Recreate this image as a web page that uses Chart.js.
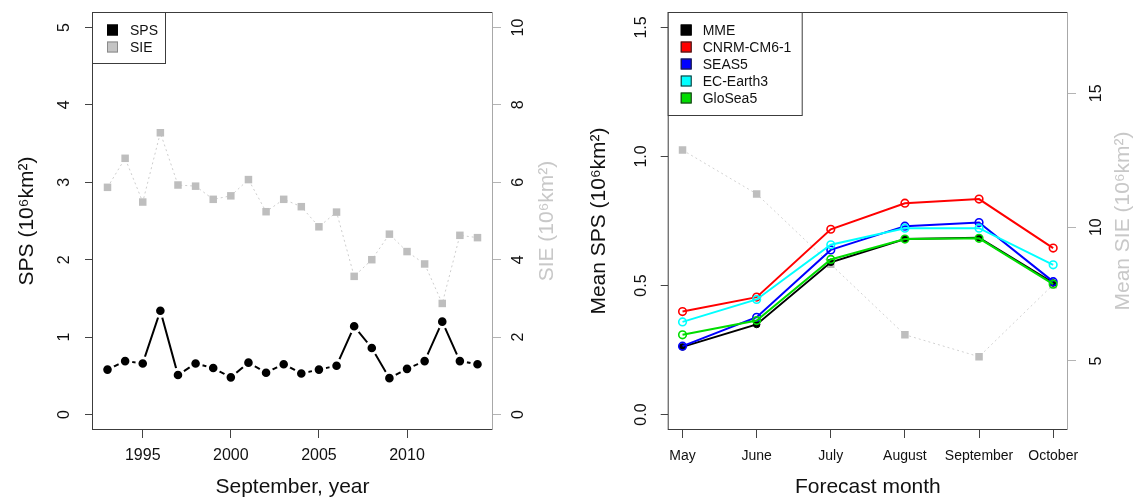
<!DOCTYPE html>
<html>
<head>
<meta charset="utf-8">
<script src="https://cdn.jsdelivr.net/npm/chart.js@4.4.1/dist/chart.umd.min.js"></script>
<style>
  html, body { margin: 0; padding: 0; background: #fff; }
  #wrap { display: flex; width: 1135px; height: 500px; }
  canvas { display: block; }
</style>
</head>
<body>
<div id="wrap">
  <canvas id="left" width="567" height="500"></canvas>
  <canvas id="right" width="568" height="500"></canvas>
</div>
<script>
// --- DATA: left panel (September, per year) ---
const years = [1993, 1994, 1995, 1996, 1997, 1998, 1999, 2000, 2001, 2002, 2003,
               2004, 2005, 2006, 2007, 2008, 2009, 2010, 2011, 2012, 2013, 2014];
const spsYear = [0.58, 0.69, 0.66, 1.34, 0.51, 0.66, 0.60, 0.48, 0.67, 0.54, 0.65,
                 0.53, 0.58, 0.63, 1.14, 0.86, 0.47, 0.59, 0.69, 1.20, 0.69, 0.65];
const sieYear = [5.87, 6.62, 5.49, 7.28, 5.93, 5.90, 5.56, 5.65, 6.07, 5.24, 5.56,
                 5.37, 4.85, 5.23, 3.57, 4.00, 4.66, 4.21, 3.89, 2.87, 4.63, 4.57];
const yearTicks = [1995, 2000, 2005, 2010];
const spsTicks = [0, 1, 2, 3, 4, 5];
const sieTicks = [0, 2, 4, 6, 8, 10];

// --- DATA: right panel (forecast month) ---
const months = ['May', 'June', 'July', 'August', 'September', 'October'];
const monthPos = [1, 2, 3, 4, 5, 6];
const mme     = [0.262, 0.349, 0.590, 0.680, 0.685, 0.510];
const cnrm    = [0.399, 0.455, 0.718, 0.819, 0.835, 0.645];
const seas5   = [0.265, 0.377, 0.638, 0.730, 0.744, 0.515];
const ecearth = [0.359, 0.446, 0.658, 0.722, 0.722, 0.580];
const glosea  = [0.309, 0.364, 0.601, 0.680, 0.683, 0.505];
const sieMonth = [12.88, 11.24, 8.61, 5.98, 5.16, 7.85];
const meanSpsTicks = [0, 0.5, 1, 1.5];
const meanSieTicks = [5, 10, 15];

Chart.defaults.font.family = "'Liberation Sans', Arial, sans-serif";
Chart.defaults.color = '#111';

const pts = (xs, ys) => xs.map((x, i) => ({ x, y: ys[i] }));
const fixTicks = list => scale => { scale.ticks = list.map(v => ({ value: v })); };

// frame, in-plot legend and right-hand axis title
const decor = {
  id: 'decor',
  afterDatasetsDraw(chart, args, opts) {
    const { ctx, chartArea: a } = chart;
    ctx.save();
    ctx.lineWidth = 1;
    ctx.strokeStyle = '#3c3c3c';
    ctx.strokeRect(a.left + 0.5, a.top + 0.5, a.width - 1, a.height - 1);
    ctx.strokeStyle = '#a8a8a8';
    ctx.beginPath();
    ctx.moveTo(a.right - 0.5, a.top);
    ctx.lineTo(a.right - 0.5, a.bottom);
    ctx.stroke();

    // legend
    const L = opts.legend;
    const items = chart.data.datasets.filter(d => d.legendFill);
    const bx = a.left, by = a.top;
    ctx.fillStyle = '#fff';
    ctx.fillRect(bx + 0.5, by + 0.5, L.w, L.h);
    ctx.strokeStyle = '#3c3c3c';
    ctx.strokeRect(bx + 0.5, by + 0.5, L.w, L.h);
    ctx.font = '14px "Liberation Sans", Arial, sans-serif';
    ctx.textBaseline = 'middle';
    ctx.textAlign = 'left';
    items.forEach((d, i) => {
      const cy = by + L.row0 + i * L.rowH;
      ctx.fillStyle = d.legendFill;
      ctx.fillRect(bx + L.sqX, cy - L.sq / 2, L.sq, L.sq);
      ctx.strokeStyle = d.legendStroke;
      ctx.strokeRect(bx + L.sqX + 0.5, cy - L.sq / 2 + 0.5, L.sq - 1, L.sq - 1);
      ctx.fillStyle = '#111';
      ctx.fillText(d.label, bx + L.textX, cy + 1);
    });

    // right axis title, reading upwards
    const T = opts.rightTitle;
    ctx.translate(T.x, (a.top + a.bottom) / 2);
    ctx.rotate(-Math.PI / 2);
    ctx.fillStyle = T.color;
    ctx.font = '21px "Liberation Sans", Arial, sans-serif';
    ctx.textAlign = 'center';
    ctx.fillText(T.text, 0, 0);
    ctx.restore();
  }
};

// fixed axis sizes, no extra label padding pushed onto the plot area
const sizeY = width => s => { s.width = width; s.paddingTop = 0; s.paddingBottom = 0; };
const sizeX = height => s => { s.height = height; s.paddingLeft = 0; s.paddingRight = 0; };

function yAxis(pos, min, max, ticks, fmt, pad, width, tickColor, tickLen, title) {
  return {
    type: 'linear', position: pos, min, max,
    afterBuildTicks: fixTicks(ticks),
    afterFit: sizeY(width),
    ticks: { minRotation: 90, maxRotation: 90, crossAlign: 'center', padding: pad,
             color: '#111', font: { size: 16 }, callback: fmt },
    grid: { drawOnChartArea: false, drawTicks: true, tickLength: tickLen, color: tickColor },
    border: { display: false },
    title: title || { display: false }
  };
}

// --- LEFT CHART ---
new Chart(document.getElementById('left'), {
  type: 'line',
  data: {
    datasets: [
      { label: 'SPS', data: pts(years, spsYear), yAxisID: 'y',
        borderColor: '#000', borderWidth: 2,
        pointRadius: 5.8, pointHoverRadius: 5.8,
        pointBackgroundColor: '#000', pointBorderColor: '#fff', pointBorderWidth: 3,
        legendFill: '#000', legendStroke: '#000' },
      { label: 'SIE', data: pts(years, sieYear), yAxisID: 'y2',
        borderColor: '#cdcdcd', borderWidth: 1, borderDash: [2, 3],
        pointStyle: 'rect', pointRadius: 5.3, pointHoverRadius: 5.3,
        pointBackgroundColor: '#bebebe', pointBorderColor: '#bebebe', pointBorderWidth: 0,
        legendFill: '#c4c4c4', legendStroke: '#8a8a8a' }
    ]
  },
  options: {
    responsive: false, animation: false, events: [],
    layout: { padding: { top: 12, left: 0, right: 0, bottom: 0 } },
    plugins: {
      legend: { display: false }, tooltip: { enabled: false },
      decor: {
        legend: { w: 73, h: 51, sq: 11, sqX: 15, textX: 38, row0: 18, rowH: 17 },
        rightTitle: { x: 547, text: 'SIE (10\u2076km\u00B2)', color: '#c8c8c8' }
      }
    },
    scales: {
      x: {
        type: 'linear', min: 1992.12, max: 2014.88,
        afterBuildTicks: fixTicks(yearTicks),
        afterFit: sizeX(70),
        ticks: { padding: 8, color: '#111', font: { size: 16 }, callback: v => String(v) },
        grid: { drawOnChartArea: false, drawTicks: true, tickLength: 8, color: '#444' },
        border: { display: false },
        title: { display: true, text: 'September, year', font: { size: 21 }, color: '#111',
                 padding: { top: 0, bottom: 0 } }
      },
      y: yAxis('left', -0.2, 5.2, spsTicks, v => String(v), 15.5, 92, '#444', 7,
               { display: true, text: 'SPS (10\u2076km\u00B2)', font: { size: 21 }, color: '#111',
                 padding: { top: 15, bottom: 0 } }),
      y2: yAxis('right', -0.4, 10.4, sieTicks, v => String(v), 9, 74, '#b4b4b4', 8)
    }
  },
  plugins: [decor]
});

// --- RIGHT CHART ---
const openCircle = (label, color, vals, order) => ({
  label, data: pts(monthPos, vals), yAxisID: 'y', order,
  borderColor: color, borderWidth: 2,
  pointRadius: 3.8, pointHoverRadius: 3.8,
  pointBackgroundColor: 'rgba(255,255,255,0)', pointBorderColor: color, pointBorderWidth: 1.6,
  legendFill: color, legendStroke: '#222'
});

new Chart(document.getElementById('right'), {
  type: 'line',
  data: {
    datasets: [
      { label: 'MME', data: pts(monthPos, mme), yAxisID: 'y', order: 5,
        borderColor: '#000', borderWidth: 2,
        pointRadius: 3.3, pointHoverRadius: 3.3,
        pointBackgroundColor: '#000', pointBorderColor: '#000', pointBorderWidth: 1,
        legendFill: '#000', legendStroke: '#000' },
      openCircle('CNRM-CM6-1', '#ff0000', cnrm, 4),
      openCircle('SEAS5', '#0000ff', seas5, 3),
      openCircle('EC-Earth3', '#00ffff', ecearth, 2),
      openCircle('GloSea5', '#00dd00', glosea, 1),
      { label: 'SIE', data: pts(monthPos, sieMonth), yAxisID: 'y2', order: 6,
        borderColor: '#d2d2d2', borderWidth: 1, borderDash: [2, 3],
        pointStyle: 'rect', pointRadius: 5.3, pointHoverRadius: 5.3,
        pointBackgroundColor: '#bebebe', pointBorderColor: '#bebebe', pointBorderWidth: 0 }
    ]
  },
  options: {
    responsive: false, animation: false, events: [],
    layout: { padding: { top: 12, left: 0, right: 0, bottom: 0 } },
    plugins: {
      legend: { display: false }, tooltip: { enabled: false },
      decor: {
        legend: { w: 134, h: 103, sq: 11, sqX: 13, textX: 35, row0: 18, rowH: 17 },
        rightTitle: { x: 556, text: 'Mean SIE (10\u2076km\u00B2)', color: '#c8c8c8' }
      }
    },
    scales: {
      x: {
        type: 'linear', min: 0.8, max: 6.2,
        afterBuildTicks: fixTicks(monthPos),
        afterFit: sizeX(70),
        ticks: { padding: 10, color: '#111', font: { size: 14 },
                 callback: v => months[Math.round(v) - 1] },
        grid: { drawOnChartArea: false, drawTicks: true, tickLength: 8, color: '#444' },
        border: { display: false },
        title: { display: true, text: 'Forecast month', font: { size: 21 }, color: '#111',
                 padding: { top: 0, bottom: 0 } }
      },
      y: yAxis('left', -0.06, 1.56, meanSpsTicks, v => v.toFixed(1), 8, 100.7, '#444', 7,
               { display: true, text: 'Mean SPS (10\u2076km\u00B2)', font: { size: 21 }, color: '#111',
                 padding: { top: 20, bottom: 0 } }),
      y2: yAxis('right', 2.42, 18.04, meanSieTicks, v => String(v), 12, 67, '#b4b4b4', 8)
    }
  },
  plugins: [decor]
});
</script>
</body>
</html>
